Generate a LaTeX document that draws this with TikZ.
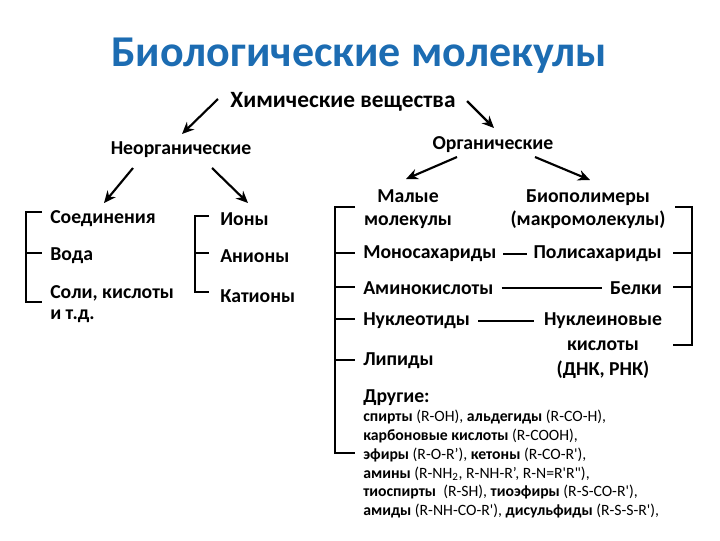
\documentclass[tikz,border=0pt]{standalone}
\usepackage{fontspec}
\setmainfont{Carlito}[Ligatures=TeXOff]
\usetikzlibrary{arrows.meta}
\definecolor{titleblue}{RGB}{28,108,178}
\tikzset{
  lbl/.style={inner sep=0pt, font=\fontsize{14.8}{17}\selectfont\bfseries},
  arr/.style={line width=1.6pt, -{Stealth[length=9pt,width=8pt]}},
  brk/.style={line width=1.4pt},
}
\begin{document}
\begin{tikzpicture}[x=0.75pt,y=-0.75pt]
\useasboundingbox (0,0) rectangle (720,540);
\node[inner sep=0pt, text=titleblue, font=\fontsize{33}{38}\selectfont\bfseries] (title) at (359,56) {Биологические молекулы};
\node[lbl, font=\fontsize{17.5}{20}\selectfont\bfseries] (chem) at (343,102) {Химические вещества};
\node[lbl] (inorg) at (181,150) {Неорганические};
\node[lbl] (org) at (493,145) {Органические};
\coordinate (chemL) at (218,99);
\coordinate (chemR) at (467,101);
\draw[arr] (chemL) -- (182,134);
\draw[arr] (chemR) -- (494,128);
\coordinate (inL) at (133,168);
\coordinate (inR) at (212,168);
\draw[arr] (inL) -- (104,203);
\draw[arr] (inR) -- (248,203);
\coordinate (orL) at (457,157);
\coordinate (orR) at (535,157);
\draw[arr] (orL) -- (406,179);
\draw[arr] (orR) -- (590,180);
% left column
\node[lbl, anchor=west] (soed) at (50,219) {Соединения};
\node[lbl, anchor=west] (voda) at (50,256) {Вода};
\node[lbl, anchor=west, align=left, font=\fontsize{14.8}{15.75}\selectfont\bfseries] (soli) at (50,304) {Соли, кислоты\\и т.д.};
\draw[brk] (42,212) -- (26,212) -- (26,302) -- (42,302);
\draw[brk] (26,253) -- (42,253);
% ions
\node[lbl, anchor=west] (iony) at (220,219) {Ионы};
\node[lbl, anchor=west] (aniony) at (220,256) {Анионы};
\node[lbl, anchor=west] (kationy) at (220,296) {Катионы};
\draw[brk] (209,216) -- (195,216) -- (195,292) -- (209,292);
\draw[brk] (195,253) -- (209,253);
% organic
\node[lbl, align=center, font=\fontsize{14.8}{17.25}\selectfont\bfseries] (small) at (408,209) {Малые\\молекулы};
\node[lbl, align=center, font=\fontsize{14.8}{17.25}\selectfont\bfseries] (biopol) at (588,209) {Биополимеры\\(макромолекулы)};
\node[lbl, anchor=west] (mono) at (363,254) {Моносахариды};
\node[lbl, anchor=east] (poly) at (662,254) {Полисахариды};
\node[lbl, anchor=west] (amino) at (363,288) {Аминокислоты};
\node[lbl, anchor=east] (belki) at (662,288) {Белки};
\node[lbl, anchor=west] (nukl) at (363,321) {Нуклеотиды};
\node[lbl, align=center, anchor=north, font=\fontsize{14.8}{19}\selectfont\bfseries] (nkis) at (603,312) {Нуклеиновые\\кислоты\\(ДНК, РНК)};
\node[lbl, anchor=west] (lip) at (363,361) {Липиды};
\node[lbl, anchor=west] (drug) at (363,398) {Другие:};
\draw[brk] ([xshift=5pt]mono.east) -- ([xshift=-5pt]poly.west);
\draw[brk] ([xshift=6pt]amino.east) -- ([xshift=-6pt]belki.west);
\draw[brk] ([xshift=6pt]nukl.east) -- ([xshift=-7pt]nkis.west |- nukl.east);
\node[inner sep=0pt, anchor=north west, align=left, font=\fontsize{11.8}{14.1}\selectfont] (other) at (363,410) {%
\textbf{спирты} (R-OH), \textbf{альдегиды} (R-CO-H),\\
\textbf{карбоновые кислоты} (R-COOH),\\
\textbf{эфиры} (R-O-R’), \textbf{кетоны} (R-CO-R'),\\
\textbf{амины} (R-NH\textsubscript{2}, R-NH-R’, R-N=R'R"),\\
\textbf{тиоспирты}\ \ (R-SH), \textbf{тиоэфиры} (R-S-CO-R'),\\
\textbf{амиды} (R-NH-CO-R'), \textbf{дисульфиды} (R-S-S-R'),};
% left bracket of organic
\draw[brk] (355,207) -- (335,207) -- (335,453) -- (355,453);
\draw[brk] (335,253) -- (355,253);
\draw[brk] (335,287) -- (355,287);
\draw[brk] (335,319) -- (355,319);
\draw[brk] (335,360) -- (355,360);
% right bracket
\draw[brk] (675,207) -- (692,207) -- (692,345) -- (673,345);
\draw[brk] (673,253) -- (692,253);
\draw[brk] (673,287) -- (692,287);
\end{tikzpicture}
\end{document}
